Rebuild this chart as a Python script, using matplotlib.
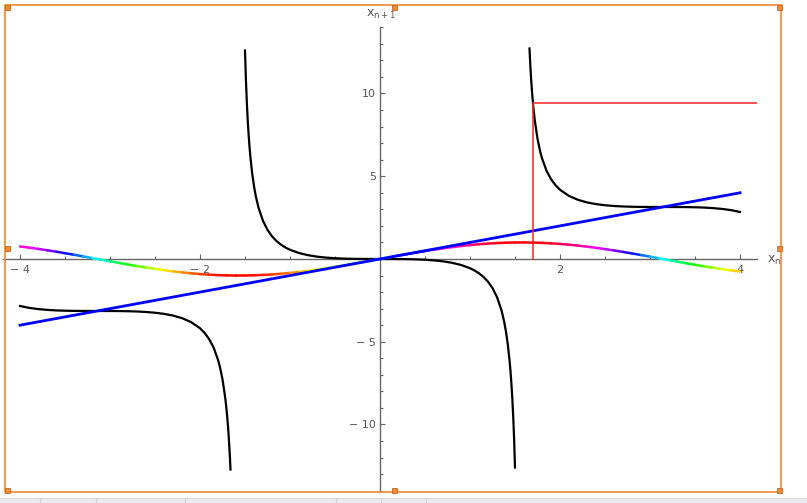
import numpy as np
import matplotlib
matplotlib.use("Agg")
from matplotlib import pyplot as plt
from matplotlib.collections import LineCollection
from matplotlib.colors import hsv_to_rgb
from matplotlib.patches import Rectangle

# Coloured curve (x, sin x)
curve_x = [-4.0, -3.9, -3.8, -3.7, -3.6, -3.5, -3.4, -3.3, -3.2, -3.1,
           -3.0, -2.9, -2.8, -2.7, -2.6, -2.5, -2.4, -2.3, -2.2, -2.1,
           -2.0, -1.9, -1.8, -1.7, -1.6, -1.5, -1.4, -1.3, -1.2, -1.1,
           -1.0, -0.9, -0.8, -0.7, -0.6, -0.5, -0.4, -0.3, -0.2, -0.1,
           0.0, 0.1, 0.2, 0.3, 0.4, 0.5, 0.6, 0.7, 0.8, 0.9,
           1.0, 1.1, 1.2, 1.3, 1.4, 1.5, 1.6, 1.7, 1.8, 1.9,
           2.0, 2.1, 2.2, 2.3, 2.4, 2.5, 2.6, 2.7, 2.8, 2.9,
           3.0, 3.1, 3.2, 3.3, 3.4, 3.5, 3.6, 3.7, 3.8, 3.9, 4.0]
curve_y = [0.7568, 0.6878, 0.6119, 0.5298, 0.4425, 0.3508, 0.2555, 0.1577, 0.0584, -0.0416,
           -0.1411, -0.2392, -0.3350, -0.4274, -0.5155, -0.5985, -0.6755, -0.7457, -0.8085, -0.8632,
           -0.9093, -0.9463, -0.9738, -0.9917, -0.9996, -0.9975, -0.9854, -0.9636, -0.9320, -0.8912,
           -0.8415, -0.7833, -0.7174, -0.6442, -0.5646, -0.4794, -0.3894, -0.2955, -0.1987, -0.0998,
           0.0, 0.0998, 0.1987, 0.2955, 0.3894, 0.4794, 0.5646, 0.6442, 0.7174, 0.7833,
           0.8415, 0.8912, 0.9320, 0.9636, 0.9854, 0.9975, 0.9996, 0.9917, 0.9738, 0.9463,
           0.9093, 0.8632, 0.8085, 0.7457, 0.6755, 0.5985, 0.5155, 0.4274, 0.3350, 0.2392,
           0.1411, 0.0416, -0.0584, -0.1577, -0.2555, -0.3508, -0.4425, -0.5298, -0.6119, -0.6878, -0.7568]

# Black iteration map, three branches
left_x = [-4.0, -3.9, -3.8, -3.7, -3.6, -3.5, -3.4, -3.3, -3.2, -3.1,
          -3.0, -2.9, -2.8, -2.7, -2.6, -2.5, -2.4, -2.3, -2.2, -2.1,
          -2.0, -1.95, -1.9, -1.85, -1.8, -1.78, -1.75, -1.72, -1.71, -1.70,
          -1.69, -1.68, -1.67, -1.661]
left_y = [-2.842, -2.953, -3.026, -3.075, -3.107, -3.125, -3.136, -3.140, -3.142, -3.142,
          -3.143, -3.146, -3.156, -3.173, -3.202, -3.247, -3.316, -3.419, -3.574, -3.810,
          -4.185, -4.460, -4.827, -5.338, -6.086, -6.490, -7.271, -8.373, -8.847, -9.397,
          -10.04, -10.80, -11.72, -12.72]

mid_x = [-1.5, -1.49, -1.48, -1.47, -1.46, -1.45, -1.44, -1.42, -1.4, -1.38,
         -1.35, -1.3, -1.25, -1.2, -1.15, -1.1, -1.05, -1.0, -0.9, -0.8,
         -0.7, -0.6, -0.5, -0.4, -0.3, -0.2, -0.1, 0.0,
         0.1, 0.2, 0.3, 0.4, 0.5, 0.6, 0.7, 0.8, 0.9, 1.0,
         1.05, 1.1, 1.15, 1.2, 1.25, 1.3, 1.35, 1.38, 1.4, 1.42,
         1.44, 1.45, 1.46, 1.47, 1.48, 1.49, 1.5]
mid_y = [12.601, 10.859, 9.503, 8.417, 7.529, 6.788, 6.162, 5.161, 4.398, 3.797,
         3.105, 2.302, 1.760, 1.372, 1.085, 0.865, 0.693, 0.557, 0.360, 0.230,
         0.142, 0.084, 0.046, 0.023, 0.009, 0.003, 0.0003, 0.0,
         -0.0003, -0.003, -0.009, -0.023, -0.046, -0.084, -0.142, -0.230, -0.360, -0.557,
         -0.693, -0.865, -1.085, -1.372, -1.760, -2.302, -3.105, -3.797, -4.398, -5.161,
         -6.162, -6.788, -7.529, -8.417, -9.503, -10.859, -12.601]

right_x = [1.661, 1.67, 1.68, 1.69, 1.70, 1.71, 1.72, 1.75, 1.78, 1.8,
           1.85, 1.9, 1.95, 2.0, 2.1, 2.2, 2.3, 2.4, 2.5, 2.6,
           2.7, 2.8, 2.9, 3.0, 3.1, 3.2, 3.3, 3.4, 3.5, 3.6,
           3.7, 3.8, 3.9, 4.0]
right_y = [12.72, 11.72, 10.80, 10.04, 9.397, 8.847, 8.373, 7.271, 6.490, 6.086,
           5.338, 4.827, 4.460, 4.185, 3.810, 3.574, 3.419, 3.316, 3.247, 3.202,
           3.173, 3.156, 3.146, 3.143, 3.142, 3.142, 3.140, 3.136, 3.125, 3.107,
           3.075, 3.026, 2.953, 2.842]

# Diagonal y = x and the cobweb step
diag_x = [-4.0, 4.0]
diag_y = [-4.0, 4.0]
cobweb_x = [1.7, 1.7, 9.397]
cobweb_y = [0.0, 9.397, 9.397]

x_major = [-4, -2, 2, 4]
x_major_labels = ["\u2212 4", "\u2212 2", "2", "4"]
y_major = [-10, -5, 5, 10]
y_major_labels = ["\u2212 10", "\u2212 5", "5", "10"]

W, H = 807, 503
ORANGE = "#f4913f"
AXIS_GRAY = "#666666"
TEXT_GRAY = "#555555"


def px(x, y):
    # pixel position (from top left) to figure fraction
    return x / W, 1 - y / H


fig = plt.figure(figsize=(W / 100, H / 100), dpi=100)
ax = fig.add_axes([2.9 / W, 11 / H, 754.2 / W, 464.7 / H])
ax.set_xlim(-4.19, 4.19)
ax.set_ylim(-14.08, 14.0)
ax.patch.set_alpha(0)

# axes through the origin
for side in ["top", "right"]:
    ax.spines[side].set_visible(False)
ax.spines["left"].set_position(("data", 0))
ax.spines["bottom"].set_position(("data", 0))
for side in ["left", "bottom"]:
    ax.spines[side].set_color(AXIS_GRAY)
    ax.spines[side].set_linewidth(1.0)

ax.set_xticks(x_major)
ax.set_xticklabels(x_major_labels)
ax.set_xticks(np.arange(-4, 4.01, 0.5), minor=True)
ax.set_yticks(y_major)
ax.set_yticklabels(y_major_labels)
ax.set_yticks(np.arange(-14, 15, 1), minor=True)
ax.tick_params(which="both", direction="in", color=AXIS_GRAY, width=0.8,
               labelsize=8, labelcolor=TEXT_GRAY)
ax.tick_params(which="major", length=3.5)
ax.tick_params(which="minor", length=2.5)
ax.tick_params(axis="x", pad=4)
ax.tick_params(axis="y", pad=3)

# black curve
for bx, by in [(left_x, left_y), (mid_x, mid_y), (right_x, right_y)]:
    ax.plot(bx, by, color="black", lw=1.6, zorder=3)

# hue-coloured curve, hue follows the height of the curve
pts = np.column_stack([curve_x, curve_y])
segs = np.stack([pts[:-1], pts[1:]], axis=1)
mid_vals = (np.array(curve_y[:-1]) + np.array(curve_y[1:])) / 2
hues = (mid_vals + 1) / 2
cols = hsv_to_rgb(np.column_stack([hues, np.ones_like(hues), np.ones_like(hues)]))
lc = LineCollection(segs, colors=cols, linewidths=1.8, zorder=3.5, capstyle="round")
ax.add_collection(lc)

ax.plot(diag_x, diag_y, color="#0000ff", lw=2.0, zorder=4)
ax.plot(cobweb_x, cobweb_y, color="#ff2020", lw=1.1, zorder=4.5)

# axis labels
fig.text(*px(381, 14), r"$\mathregular{x_{n+1}}$", ha="center", va="center",
         fontsize=9, color=TEXT_GRAY)
fig.text(*px(774, 260), r"$\mathregular{x_n}$", ha="center", va="center",
         fontsize=9, color=TEXT_GRAY)

# selection frame with its handles
x0, y0 = px(5, 492)
fig.add_artist(Rectangle((x0, y0), 776 / W, 487 / H, fill=False,
                         edgecolor=ORANGE, lw=1.3, transform=fig.transFigure))
for hx in [5, 392, 777]:
    for hy in [5, 246, 488]:
        if hx == 392 and hy == 246:
            continue
        fx, fy = px(hx, hy + 5)
        fig.add_artist(Rectangle((fx, fy), 5 / W, 5 / H, facecolor="#f08a35",
                                 edgecolor="#c0662a", lw=0.6,
                                 transform=fig.transFigure))

# toolbar strip along the bottom
sx, sy = px(0, 503)
fig.add_artist(Rectangle((sx, sy), 1, 5.5 / H, facecolor="#ececf0",
                         edgecolor="none", transform=fig.transFigure))
fig.add_artist(plt.Line2D([0, 1], [5.5 / H, 5.5 / H], color="#d8d8de", lw=0.8,
                          transform=fig.transFigure))
for sep in [40, 96, 185, 336, 381, 426]:
    fig.add_artist(plt.Line2D([sep / W, sep / W], [0, 5.5 / H], color="#d0d0d6",
                              lw=0.8, transform=fig.transFigure))

fig.savefig("out.png", dpi=100)
